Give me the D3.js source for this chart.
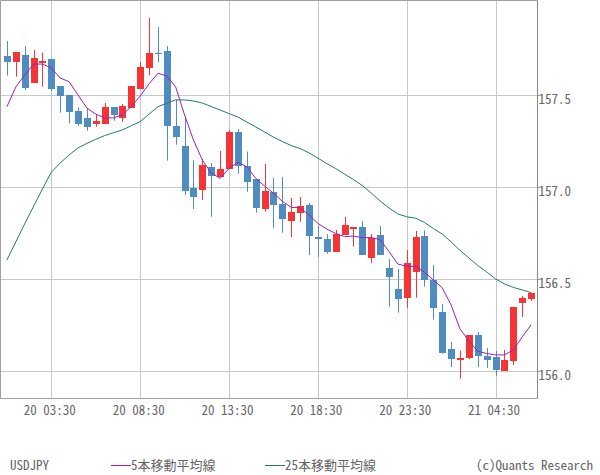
<!DOCTYPE html>
<html><head><meta charset="utf-8">
<script src="https://cdn.jsdelivr.net/npm/d3@7"></script>
<style>
html,body{margin:0;padding:0;background:#fff;}
svg text{font-family:"Noto Sans Mono CJK JP","DejaVu Sans Mono",monospace;}
</style></head>
<body><svg id="c" width="600" height="475"></svg>
<script>
const times = ["20 01:00","20 01:30","20 02:00","20 02:30","20 03:00","20 03:30","20 04:00","20 04:30","20 05:00","20 05:30",
"20 06:00","20 06:30","20 07:00","20 07:30","20 08:00","20 08:30","20 09:00","20 09:30","20 10:00","20 10:30",
"20 11:00","20 11:30","20 12:00","20 12:30","20 13:00","20 13:30","20 14:00","20 14:30","20 15:00","20 15:30",
"20 16:00","20 16:30","20 17:00","20 17:30","20 18:00","20 18:30","20 19:00","20 19:30","20 20:00","20 20:30",
"20 21:00","20 21:30","20 22:00","20 22:30","20 23:00","20 23:30","21 00:00","21 00:30","21 01:00","21 01:30",
"21 02:00","21 02:30","21 03:00","21 03:30","21 04:00","21 04:30","21 05:00","21 05:30","21 06:00","21 06:30"];
const open  = [157.715,157.682,157.722,157.570,157.678,157.698,157.552,157.503,157.416,157.378,
157.341,157.347,157.437,157.379,157.434,157.537,157.651,157.731,157.742,157.334,
157.226,156.997,156.986,157.111,157.057,157.104,157.302,157.117,157.046,156.883,
156.976,156.912,156.820,156.863,156.907,156.731,156.720,156.651,156.744,156.774,
156.785,156.619,156.742,156.563,156.448,156.401,156.542,156.736,156.499,156.323,
156.121,156.064,156.072,156.198,156.084,156.077,156.003,156.057,156.372,156.394];
const high  = [157.796,157.736,157.769,157.747,157.733,157.698,157.552,157.503,157.436,157.427,
157.399,157.459,157.437,157.454,157.552,157.682,157.921,157.872,157.769,157.476,
157.379,157.149,157.155,157.133,157.198,157.313,157.318,157.195,157.046,157.128,
157.052,157.057,156.943,156.948,156.916,156.791,156.747,156.769,156.840,156.785,
156.818,156.747,156.791,156.611,156.557,156.660,156.764,156.767,156.579,156.367,
156.162,156.113,156.198,156.215,156.128,156.111,156.117,156.351,156.410,156.427];
const low   = [157.608,157.602,157.530,157.570,157.548,157.524,157.407,157.349,157.334,157.309,
157.330,157.347,157.363,157.358,157.434,157.537,157.611,157.680,157.146,157.233,
156.959,156.883,156.932,156.841,157.057,157.104,157.075,156.977,156.863,156.869,
156.780,156.754,156.731,156.813,156.633,156.622,156.640,156.651,156.744,156.679,
156.635,156.591,156.635,156.352,156.320,156.347,156.401,156.461,156.282,156.097,
156.024,155.961,156.068,156.024,156.019,155.976,156.003,156.035,156.296,156.383];
const close = [157.682,157.736,157.542,157.704,157.688,157.535,157.499,157.412,157.345,157.330,
157.360,157.437,157.396,157.443,157.552,157.655,157.731,157.726,157.336,157.276,
156.983,156.950,157.122,157.064,157.101,157.303,157.119,157.032,156.890,156.981,
156.907,156.830,156.867,156.899,156.738,156.722,156.651,156.747,156.796,156.785,
156.635,156.727,156.635,156.515,156.396,156.590,156.731,156.499,156.347,156.102,
156.068,156.073,156.198,156.084,156.064,156.008,156.063,156.351,156.399,156.427];
const ma5 = [157.439,157.546,157.611,157.671,157.671,157.649,157.595,157.575,157.503,157.432,
157.399,157.379,157.378,157.396,157.439,157.497,157.563,157.621,157.606,157.546,
157.394,157.258,157.149,157.079,157.050,157.104,157.137,157.113,157.050,157.008,
156.969,156.925,156.892,156.890,156.851,156.805,156.774,156.751,156.733,156.736,
156.727,156.728,156.717,156.653,156.584,156.572,156.571,156.540,156.497,156.455,
156.361,156.231,156.166,156.110,156.098,156.090,156.090,156.117,156.188,156.254];
const ma25 = [156.606,156.704,156.802,156.897,156.992,157.083,157.133,157.177,157.215,157.240,
157.262,157.282,157.298,157.313,157.336,157.358,157.399,157.439,157.458,157.476,
157.476,157.470,157.459,157.440,157.421,157.402,157.383,157.356,157.329,157.302,
157.274,157.250,157.228,157.212,157.188,157.160,157.130,157.103,157.073,157.043,
157.011,156.970,156.927,156.889,156.856,156.841,156.833,156.810,156.777,156.747,
156.704,156.658,156.617,156.576,156.541,156.503,156.476,156.457,156.443,156.429];
const priceTicks = [156.0, 156.5, 157.0, 157.5];
const timeTicks = ["20 03:30","20 08:30","20 13:30","20 18:30","20 23:30","21 04:30"];
const symbol = "USDJPY";
const legendMA5 = "5本移動平均線";
const legendMA25 = "25本移動平均線";
const credit = "(c)Quants Research";

const UP = "#f53535", DOWN = "#4f8dc0", C5 = "#a01ec0", C25 = "#267a70";
const L = 0.5, T = 0.5, R = 537.5, B = 398.5;
const svg = d3.select("#c");
const x = d3.scalePoint().domain(times).range([L, R]).padding(0.72);
const y = d3.scaleLinear().domain([156, 157.5]).range([371.5, 95.5]);
const px = t => Math.round(x(t)) + 0.5;

// grid
const g = svg.append("g");
g.selectAll(".hg").data(priceTicks).join("line")
  .attr("x1", L).attr("x2", R).attr("y1", d => Math.round(y(d) - 0.5) + 0.5).attr("y2", d => Math.round(y(d) - 0.5) + 0.5)
  .attr("stroke", "#c8c8c8");
g.selectAll(".vg").data(timeTicks).join("line")
  .attr("x1", px).attr("x2", px).attr("y1", T).attr("y2", B)
  .attr("stroke", "#c8c8c8");

// frame
svg.append("path").attr("d", `M${L},${B}V${T}H${R}`).attr("fill", "none").attr("stroke", "#a0a0a0");
svg.append("line").attr("x1", L).attr("x2", R).attr("y1", B).attr("y2", B).attr("stroke", "#a0a0a0");
svg.append("line").attr("x1", R).attr("x2", R).attr("y1", T).attr("y2", B).attr("stroke", "#888");

// right axis
const ya = d3.axisRight(y).tickValues(priceTicks).tickFormat(d3.format(".1f")).tickSize(2).tickPadding(0);
const yg = svg.append("g").attr("transform", `translate(${R},0)`).call(ya);
yg.select(".domain").remove();
yg.selectAll("line").attr("stroke", "#888").attr("transform", "translate(0,-0.5)");
yg.selectAll("text").attr("fill", "#666").attr("font-size", 13).attr("dy", "0.6em").attr("x", 1);

// bottom axis labels
const xa = d3.axisBottom(x).tickValues(timeTicks).tickSize(0).tickPadding(0);
const xg = svg.append("g").attr("transform", `translate(-2,${B})`).call(xa);
xg.select(".domain").remove();
xg.selectAll("text").attr("fill", "#666").attr("font-size", 13).attr("dy", "1.1em").attr("y", 2).attr("xml:space", "preserve");

// candles
const idx = d3.range(times.length);
const cg = svg.append("g");
cg.selectAll(".wick").data(idx).join("line")
  .attr("x1", i => px(times[i])).attr("x2", i => px(times[i]))
  .attr("y1", i => y(high[i])).attr("y2", i => y(low[i]))
  .attr("stroke", i => close[i] >= open[i] ? UP : DOWN).attr("stroke-width", 1);
cg.selectAll(".body").data(idx).join("rect")
  .attr("x", i => px(times[i]) - 3.5).attr("width", 7)
  .attr("y", i => Math.round(y(Math.max(open[i], close[i]))))
  .attr("height", i => Math.max(1, Math.round(Math.abs(y(open[i]) - y(close[i])))))
  .attr("fill", i => close[i] >= open[i] ? UP : DOWN);

// MA lines
const line = arr => d3.line().x((d, i) => x(times[i])).y(d => y(d))(arr);
svg.append("path").attr("d", line(ma25)).attr("fill", "none").attr("stroke", C25).attr("stroke-width", 1);
svg.append("path").attr("d", line(ma5)).attr("fill", "none").attr("stroke", C5).attr("stroke-width", 1);

// legend
const ly = 470;
const lg = svg.append("g").attr("fill", "#666").attr("font-size", 13);
lg.append("text").attr("x", 10).attr("y", ly).text(symbol);
lg.append("line").attr("x1", 111).attr("x2", 131).attr("y1", ly - 4.5).attr("y2", ly - 4.5).attr("stroke", C5);
lg.append("text").attr("x", 131).attr("y", ly).text(legendMA5);
lg.append("line").attr("x1", 265).attr("x2", 285).attr("y1", ly - 4.5).attr("y2", ly - 4.5).attr("stroke", C25);
lg.append("text").attr("x", 285).attr("y", ly).text(legendMA25);
lg.append("text").attr("x", 593).attr("y", ly).attr("text-anchor", "end").text(credit);
</script></body></html>
